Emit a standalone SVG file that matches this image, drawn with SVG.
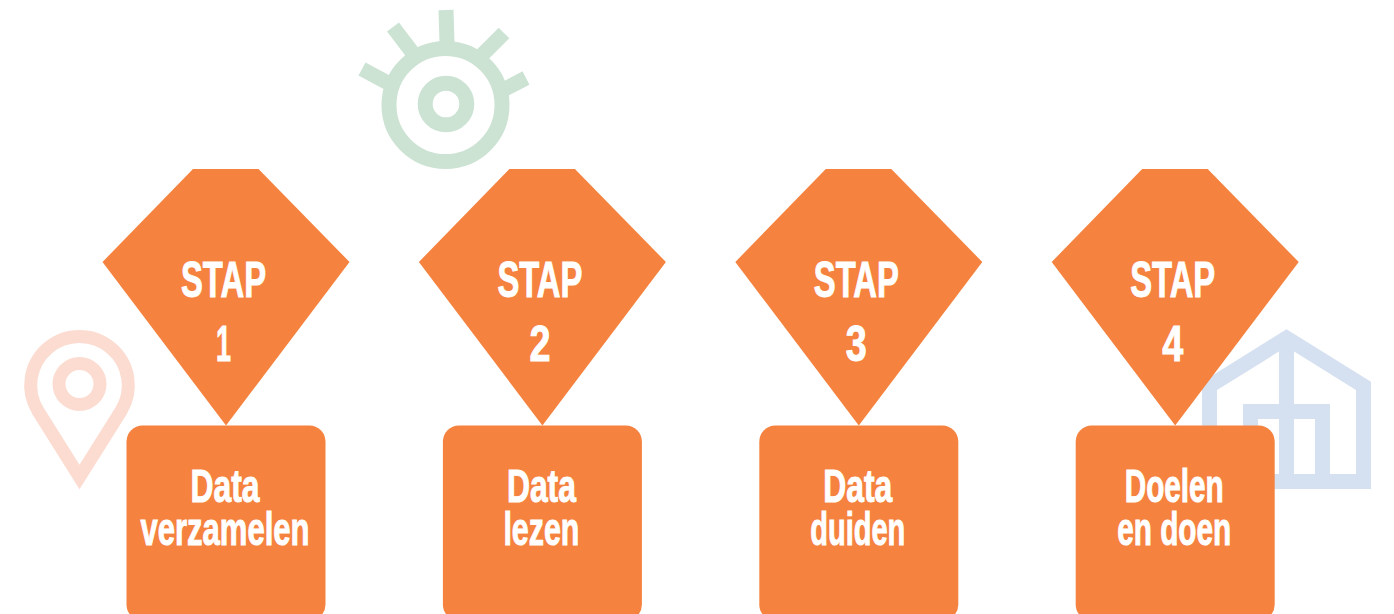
<svg xmlns="http://www.w3.org/2000/svg" width="1394" height="614" viewBox="0 0 1394 614">
<style>
.d{fill:#f5823e}
.t{fill:#fff;stroke:#fff;stroke-width:1;font-family:"Liberation Sans Narrow","Liberation Sans",sans-serif;font-weight:700;text-anchor:middle}
.s{font-size:50px}
.l{font-size:46px}
.eye{fill:none;stroke:#cce3d3;stroke-width:15}
.pin{fill:none;stroke:#fcdcd1;stroke-width:13;stroke-miterlimit:10}
.house{fill:none;stroke:#d5e0f1;stroke-width:15;stroke-miterlimit:10}
</style>
<rect width="1394" height="614" fill="#fff"/>
<g id="icon-eye" class="eye">
<circle cx="445.500" cy="105" r="56.500"/>
<circle cx="446" cy="104" r="20.800"/>
<path d="M446 10L447 43M393 27L412 52M504 33L482 55M362 69L388 83M526 78L503 90"/>
</g>
<g id="icon-pin" class="pin">
<path d="M79.500 477L38 411A48.800 48.800 0 1 1 121 411Z"/>
<circle cx="79.500" cy="384" r="20.500"/>
</g>
<g id="icon-house" class="house">
<path d="M1209.500 386L1286.500 338L1363.500 386V481.500H1209.500Z"/>
<path d="M1286.500 338V481M1250.500 481V411.500H1322.500V481"/>
</g>
<g id="connectors"></g>
<g id="step1">
<path class="d" d="M193 169H258.500L349.500 262L226 425.500L102.500 262Z"/>
<rect class="d" x="126.500" y="425.500" width="199" height="195" rx="16"/>
<text class="t s" x="223.500" y="297" textLength="85" lengthAdjust="spacingAndGlyphs">STAP</text>
<text class="t s" x="223.500" y="361" textLength="15" lengthAdjust="spacingAndGlyphs">1</text>
<text class="t l" x="225" y="502" textLength="69" lengthAdjust="spacingAndGlyphs">Data</text>
<text class="t l" x="225" y="545" textLength="169" lengthAdjust="spacingAndGlyphs">verzamelen</text>
</g>
<g id="step2">
<path class="d" d="M509.400 169H574.900L665.900 262L542.400 425.500L418.900 262Z"/>
<rect class="d" x="442.900" y="425.500" width="199" height="195" rx="16"/>
<text class="t s" x="539.900" y="297" textLength="85" lengthAdjust="spacingAndGlyphs">STAP</text>
<text class="t s" x="539.900" y="361" textLength="21" lengthAdjust="spacingAndGlyphs">2</text>
<text class="t l" x="541.400" y="502" textLength="69" lengthAdjust="spacingAndGlyphs">Data</text>
<text class="t l" x="541.400" y="545" textLength="76" lengthAdjust="spacingAndGlyphs">lezen</text>
</g>
<g id="step3">
<path class="d" d="M825.800 169H891.300L982.300 262L858.800 425.500L735.300 262Z"/>
<rect class="d" x="759.300" y="425.500" width="199" height="195" rx="16"/>
<text class="t s" x="856.300" y="297" textLength="85" lengthAdjust="spacingAndGlyphs">STAP</text>
<text class="t s" x="856.300" y="361" textLength="21" lengthAdjust="spacingAndGlyphs">3</text>
<text class="t l" x="857.800" y="502" textLength="69" lengthAdjust="spacingAndGlyphs">Data</text>
<text class="t l" x="857.800" y="545" textLength="95" lengthAdjust="spacingAndGlyphs">duiden</text>
</g>
<g id="step4">
<path class="d" d="M1142.200 169H1207.700L1298.700 262L1175.200 425.500L1051.700 262Z"/>
<rect class="d" x="1075.700" y="425.500" width="199" height="195" rx="16"/>
<text class="t s" x="1172.700" y="297" textLength="85" lengthAdjust="spacingAndGlyphs">STAP</text>
<text class="t s" x="1172.700" y="361" textLength="21" lengthAdjust="spacingAndGlyphs">4</text>
<text class="t l" x="1174.200" y="502" textLength="99" lengthAdjust="spacingAndGlyphs">Doelen</text>
<text class="t l" x="1174.200" y="545" textLength="114" lengthAdjust="spacingAndGlyphs">en doen</text>
</g>
</svg>
